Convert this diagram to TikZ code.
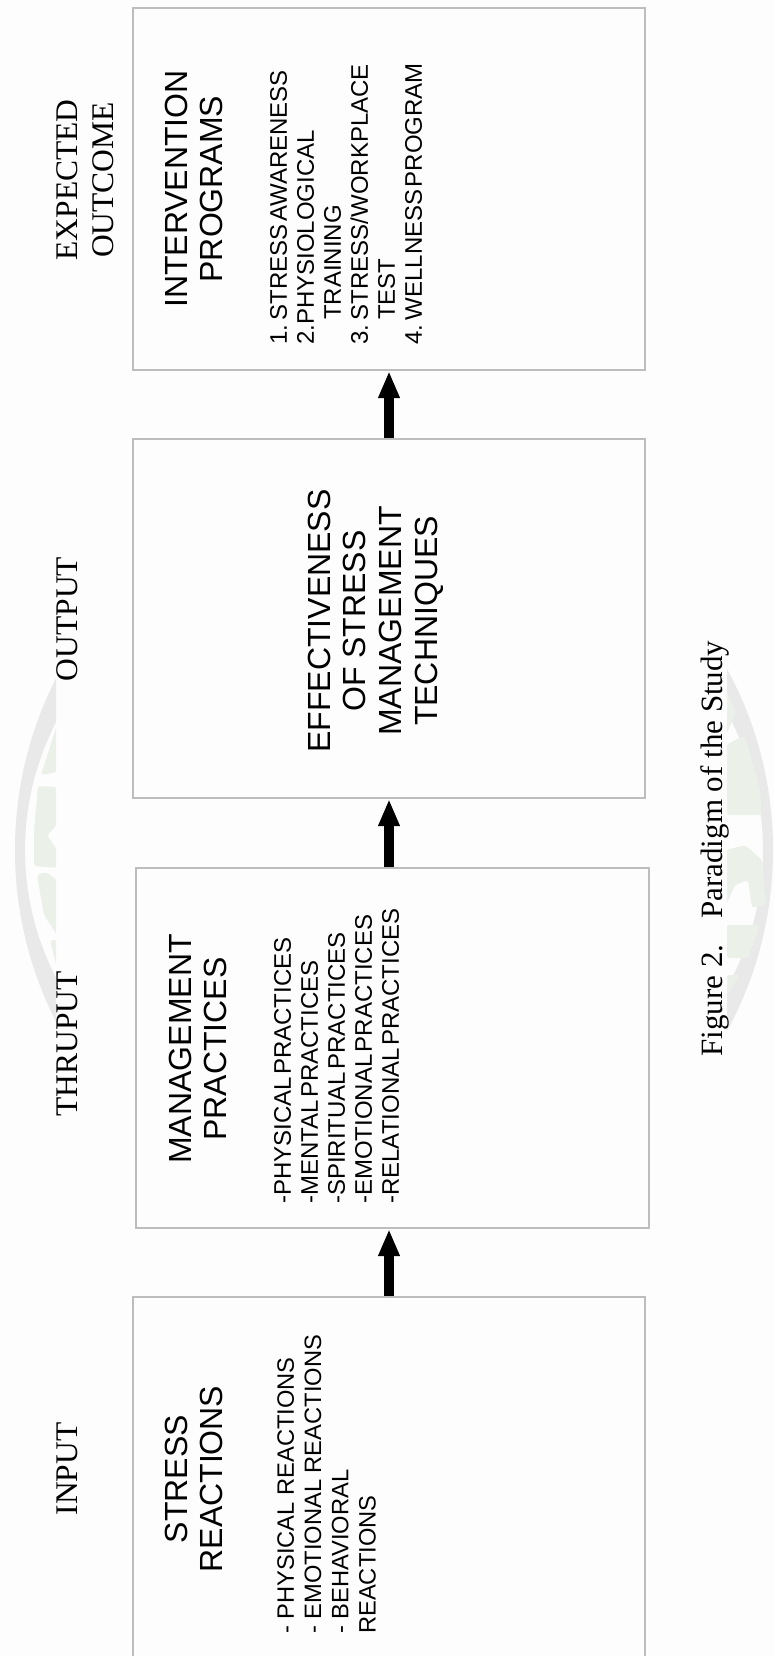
\documentclass[tikz,border=0pt]{standalone}
\usepackage{fontspec}
\setmainfont{Liberation Serif}
\setsansfont{Liberation Sans}
\usetikzlibrary{arrows.meta,positioning,calc}
\definecolor{PaperWhite}{HTML}{FDFDFD}
\definecolor{BoxEdge}{HTML}{BDBDBD}
\definecolor{SealRing}{HTML}{E8E9E8}
\definecolor{SealMark}{HTML}{EBF0E9}
\newcommand{\tightgaps}{\spaceskip=.1em\relax}
\tikzset{
  framebox/.style={draw=BoxEdge,fill=PaperWhite,line width=1.3pt,minimum width=512pt,inner sep=0pt},
  stagelabel/.style={rotate=90,align=center,inner sep=0pt,font=\rmfamily\fontsize{31.5}{36}\selectfont},
  boxtitle/.style={rotate=90,align=center,inner sep=0pt,font=\sffamily\fontsize{32}{35.7}\selectfont},
  boxlist/.style={rotate=90,align=left,anchor=north west,inner sep=0pt,font=\sffamily\fontsize{23.7}{27.3}\selectfont},
  tightlist/.style={boxlist,font=\sffamily\fontsize{24}{27}\selectfont,execute at begin node={\tightgaps}},
  sealmark/.style={fill=SealMark,rounded corners=3pt},
  flowarrow/.style={-{Triangle[length=27pt,width=20pt]},line width=10pt,black,shorten >=0.5pt}}
\begin{document}
\begin{tikzpicture}[x=1pt,y=-1pt]
  \useasboundingbox (0,0) rectangle (774,1656);
  \fill[PaperWhite] (0,0) rectangle (774,1656);
  % seal behind the page
  \begin{scope}
    \clip (0,0) rectangle (56,1656) (727,0) rectangle (774,1656);
    \fill[SealRing,even odd rule] (394,850) circle[radius=379]
      (394,850) ellipse[x radius=369,y radius=318];
    \fill[sealmark] (57,725)--(41,775)--(57,772)--cycle;
    \fill[sealmark] (57,787)--(38,786)--(34,830)--(34,866)--(57,868)--(57,850)--(47,835)--(57,825)--cycle;
    \fill[sealmark] (37,875)--(46,872)--(57,880)--(57,935)--(44,915)--cycle;
    \fill[sealmark] (50,940)--(57,940)--(57,968)--cycle;
    \fill[sealmark] (726,690)--(736,712)--(726,735)--cycle;
    \fill[sealmark] (726,745)--(745,735)--(760,790)--(762,815)--(726,815)--cycle;
    \fill[sealmark] (726,850)--(745,845)--(762,860)--(766,905)--(752,908)--(748,880)--(735,885)--(726,905)--cycle;
    \fill[sealmark] (726,925)--(760,925)--(748,958)--(726,958)--cycle;
    \fill[sealmark] (726,975)--(740,975)--(726,996)--cycle;
  \end{scope}
  % the four boxes
  \node[framebox,minimum height=362pt] (programs) at (389,189) {};
  \node[framebox,minimum height=359pt] (effects) at (389,618.5) {};
  \node[framebox,minimum height=360pt,minimum width=513pt] (practices) at (392.5,1048) {};
  \node[framebox,minimum height=380pt] (reactions) at (389,1487) {};
  % stage names
  \node[stagelabel] (input) at (67.5,1469) {INPUT};
  \node[stagelabel] (thruput) at (67.5,1044) {THRUPUT};
  \node[stagelabel] (output) at (67.5,619) {OUTPUT};
  \node[stagelabel] (outcome) at (85,180) {EXPECTED\\OUTCOME};
  % box titles
  \node[boxtitle] (stresstitle) at (194,1479) {STRESS\\REACTIONS};
  \node[boxtitle] (mgmttitle) at (198,1049) {MANAGEMENT\\PRACTICES};
  \node[boxtitle] (effecttitle) at (375.5,621) {EFFECTIVENESS\\OF STRESS\\MANAGEMENT\\TECHNIQUES};
  \node[boxtitle] (progtitle) at (194,189) {INTERVENTION\\PROGRAMS};
  % box lists
  \node[boxlist] (stresslist) at (277,1634) {- PHYSICAL REACTIONS\\- EMOTIONAL REACTIONS\\- BEHAVIORAL\\REACTIONS};
  \node[tightlist] (mgmtlist) at (274,1204) {-PHYSICAL PRACTICES\\-MENTAL PRACTICES\\-SPIRITUAL PRACTICES\\-EMOTIONAL PRACTICES\\-RELATIONAL PRACTICES};
  \node[tightlist] (proglist) at (270,345) {1. STRESS AWARENESS\\2.PHYSIOLOGICAL\\\hspace*{25pt}TRAINING\\3. STRESS/WORKPLACE\\\hspace*{25pt}TEST\\4. WELLNESS PROGRAM};
  % caption
  \node[rotate=90,anchor=base,inner sep=0pt,font=\rmfamily\fontsize{31}{34}\selectfont] (caption) at (722,848.5) {Figure 2.\hspace{.5em} Paradigm of the Study};
  % arrows
  \draw[flowarrow] (reactions.north) -- (reactions.north |- practices.south);
  \draw[flowarrow] (reactions.north |- practices.north) -- (reactions.north |- effects.south);
  \draw[flowarrow] (effects.north) -- (programs.south);
\end{tikzpicture}
\end{document}
